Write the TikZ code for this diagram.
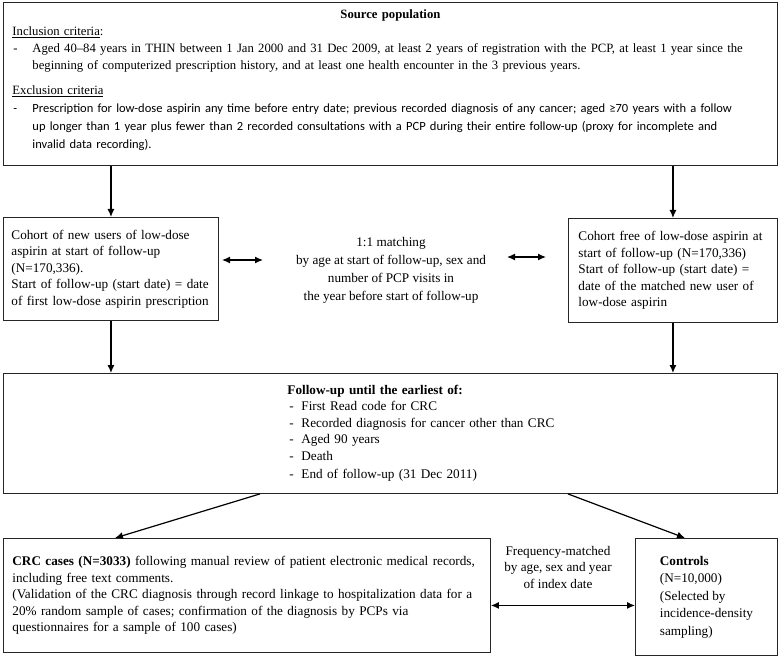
\documentclass[tikz,border=0pt]{standalone}
\usepackage{fontspec}
\setmainfont{Liberation Serif}
\newfontfamily\calibrifont{Carlito}
\usetikzlibrary{arrows.meta}

\newcommand{\dashline}[1]{\mbox{\makebox[20pt][l]{\hspace{1pt}-}#1}}
\newcommand{\fuitem}[1]{\hspace*{277pt}\makebox[12pt][l]{-}#1}

\begin{document}
\begin{tikzpicture}[x=1pt,y=-1pt,
    box/.style ={draw=black!85, line width=0.9pt, anchor=north west, align=left,
      inner xsep=9pt, inner ysep=0pt, font=\fontsize{13.2}{16.5}\selectfont},
    plain/.style ={align=center, font=\fontsize{13.2}{18}\selectfont},
    flow/.style ={line width=1.2pt, -{Latex[length=8pt,width=7pt]}},
    both/.style ={line width=1.2pt, {Latex[length=8pt,width=7pt]}-{Latex[length=8pt,width=7pt]}}]
   \useasboundingbox (0,0) rectangle (779,663);
   % source population
   \node[box, text width=756, minimum height=163, font=\fontsize{12.7}{17}\selectfont] (source) at (3,2) {%
     \makebox[756pt]{\textbf{Source population}}\\
     \underline{Inclusion criteria}:\\
     \dashline{Aged 40–84 years in THIN between 1 Jan 2000 and 31 Dec 2009, at least 2 years of registration with the PCP, at least 1 year since the}\\
     \mbox{\hspace*{20pt}beginning of computerized prescription history, and at least one health encounter in the 3 previous years.}\\[8pt]
     \underline{Exclusion criteria}\\[1pt]
     {\calibrifont\fontsize{12.5}{17}\selectfont
     \dashline{Prescription for low-dose aspirin any time before entry date; previous recorded diagnosis of any cancer; aged ≥70 years with a follow}\\[1pt]
     \mbox{\hspace*{20pt}up longer than 1 year plus fewer than 2 recorded consultations with a PCP during their entire follow-up (proxy for incomplete and}\\[1pt]
     \mbox{\hspace*{20pt}invalid data recording).}}\\[-7pt]\mbox{}};
   % the two cohorts
   \node[box, text width=199, inner xsep=8pt, minimum height=103] (newusers) at (3,217)
     {Cohort of new users of low-dose\\ aspirin at start of follow-up\\ (N=170,336).\\
      Start of follow-up (start date) = date\\ of first low-dose aspirin prescription};
   \node[box, text width=189, inner xsep=10pt, minimum height=104] (nonusers) at (568,218)
     {Cohort free of low-dose aspirin at\\ start of follow-up (N=170,336)\\
      Start of follow-up (start date) =\\ date of the matched new user of\\ low-dose aspirin};
   \node[plain] (matching) at (391,270) {1:1 matching\\ by age at start of follow-up, sex and\\
      number of PCP visits in\\ the year before start of follow-up};
   \coordinate (la) at (222,260);
   \coordinate (lb) at (263,260);
   \coordinate (ra) at (507,257);
   \coordinate (rb) at (546,257);
   \draw[both] (la) -- (lb);
   \draw[both] (ra) -- (rb);
   % follow-up
   \node[box, text width=756, minimum height=120] (followup) at (3,373) {%
     \hspace*{275pt}\textbf{Follow-up until the earliest of:}\\
     \fuitem{First Read code for CRC}\\
     \fuitem{Recorded diagnosis for cancer other than CRC}\\
     \fuitem{Aged 90 years}\\
     \fuitem{Death}\\[2pt]
     \fuitem{End of follow-up (31 Dec 2011)}};
   % cases and controls
   \node[box, text width=469, minimum height=114] (cases) at (3,538)
     {\textbf{CRC cases (N=3033)} following manual review of patient electronic medical records,\\
      including free text comments.\\
      (Validation of the CRC diagnosis through record linkage to hospitalization data for a\\
      20\% random sample of cases; confirmation of the diagnosis by PCPs via\\
      questionnaires for a sample of 100 cases)};
   \node[box, minimum width=142, minimum height=117, font=\fontsize{13.2}{17.5}\selectfont] (controls) at (635,538)
     {\textbf{Controls}\\ (N=10,000)\\ (Selected by\\ incidence-density\\ sampling)};
   \node[plain, font=\fontsize{13.2}{16.5}\selectfont] (freq) at (558,567) {Frequency-matched\\ by age, sex and year\\ of index date};
   \coordinate (fl) at ([yshift=-10pt]cases.east);
   % arrows
   \draw[flow] (source.south -| newusers.north) to (newusers.north);
   \draw[flow] (source.south -| nonusers.north) to (nonusers.north);
   \draw[flow] (newusers.south) to (newusers.south |- followup.north);
   \draw[flow] (nonusers.south) to (nonusers.south |- followup.north);
   \draw[flow] ([xshift=257pt]followup.south west) to ([xshift=112pt]cases.north west);
   \draw[flow] ([xshift=-210pt]followup.south east) to ([xshift=50pt]controls.north west);
   \draw[both] (fl) to (fl -| controls.west);
 \end{tikzpicture}
\end{document}
